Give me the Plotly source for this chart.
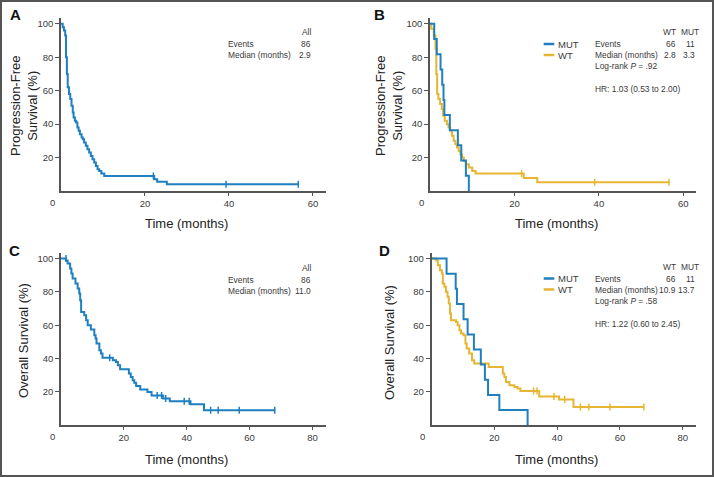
import plotly.graph_objects as go

# Kaplan-Meier step points (time in months, survival in %)
pfs_all_t = [0, 0.4, 0.7, 1.0, 1.2, 1.4, 1.6, 1.9, 2.2, 2.5, 2.8, 3.0, 3.3, 3.6, 3.9, 4.2, 4.5, 4.9,
             5.2, 5.5, 5.9, 6.3, 6.7, 7.1, 7.5, 7.9, 8.3, 8.7, 9.1, 9.6, 10.3, 22.2, 22.9, 25.2, 56.5]
pfs_all_s = [100, 98, 96, 93, 80, 70, 62, 58, 55, 51, 47, 44, 42, 41, 38, 36, 34, 32,
             31, 29, 27, 25, 23, 21, 19, 17, 15, 13, 12, 10.5, 9, 7, 5.5, 4, 4]
pfs_all_cens_t = [22.0, 39.3, 56.5]
pfs_all_cens_s = [9, 4, 4]

pfs_mut_t = [0, 1.0, 1.6, 2.5, 2.9, 3.2, 3.4, 4.7, 6.6, 7.4, 8.5, 9.2]
pfs_mut_s = [100, 90.9, 81.8, 72.7, 63.6, 54.5, 45.5, 36.4, 27.3, 18.2, 9.1, 0]

pfs_wt_t = [0, 0.3, 0.9, 1.3, 1.5, 1.7, 2.0, 2.4, 2.8, 3.1, 3.5, 4.0, 4.4, 4.8, 5.2, 5.6, 6.0, 6.4,
            6.8, 7.2, 7.6, 8.0, 8.5, 9.2, 10.0, 10.8, 22.2, 25.4, 56.6]
pfs_wt_s = [100, 97, 93, 85, 70, 58, 55, 52, 49, 45, 42, 40, 38, 36, 33, 30, 28, 26,
            24, 22, 20, 18, 16, 14, 12, 10.4, 7.8, 5.2, 5.2]
pfs_wt_cens_t = [21.7, 39.0, 56.6]
pfs_wt_cens_s = [10.4, 5.2, 5.2]

os_all_t = [0, 1.6, 2.1, 2.9, 3.3, 3.7, 4.6, 5.3, 5.8, 6.1, 6.4, 7.4, 8.0, 8.5, 9.5, 10.6, 11.0, 11.3,
            12.2, 12.7, 13.2, 16.5, 17.5, 18.1, 18.8, 21.6, 22.2, 22.8, 23.3, 23.9, 25.2, 27.5,
            28.8, 32.5, 34.6, 41.2, 45.5, 68.0]
os_all_s = [100, 98.8, 97, 94, 91, 88, 85, 82, 79, 75, 68, 66, 63, 60, 57.5, 54, 52, 49,
            45, 43, 40.5, 39, 38, 36, 33.6, 31, 29, 27, 25.5, 23.5, 21.5, 20,
            17.8, 16, 14.4, 12.6, 9, 9]
os_all_cens_t = [1.6, 15.5, 30.6, 32.0, 33.3, 39.2, 40.8, 47.6, 50.0, 56.7, 68.0]
os_all_cens_s = [100, 40.5, 17.8, 17.8, 16, 14.4, 14.4, 9, 9, 9, 9]

os_mut_t = [0, 4.8, 7.7, 8.1, 10.2, 11.5, 13.5, 15.7, 17.0, 18.0, 21.6, 30.6]
os_mut_s = [100, 90.9, 81.8, 72.7, 63.6, 54.5, 45.5, 36.4, 27.3, 18.2, 9.1, 0]

os_wt_t = [0, 1.4, 2.0, 2.7, 3.3, 3.6, 4.1, 4.6, 5.1, 5.5, 5.9, 6.2, 7.8, 8.3, 8.9, 9.4, 10.2, 10.8,
           11.2, 12.0, 12.9, 13.6, 18.2, 22.7, 23.2, 23.7, 24.8, 26.4, 27.4, 28.3, 34.3, 40.6,
           45.2, 67.6]
os_wt_s = [100, 99, 96, 93, 91, 85, 83, 80, 77, 73, 67, 63, 62, 60, 57, 55, 54, 49,
           46, 43, 39, 37, 35, 31, 29, 26, 24, 23, 22, 20.5, 17.3, 15.4,
           11, 11]
os_wt_cens_t = [32.5, 33.6, 39.0, 42.4, 47.4, 50.1, 56.8, 67.6]
os_wt_cens_s = [20.5, 20.5, 17.3, 15.4, 11, 11, 11, 11]

y_ticks = [20, 40, 60, 80, 100]
x_ticks_pfs = [20, 40, 60]
x_ticks_os = [20, 40, 60, 80]

BLUE = "#1f7fc0"
GOLD = "#e6b531"
AXIS = "#555555"
TXT = "#3a3a3a"
FONT = "Liberation Sans, Arial, sans-serif"

W, H = 714, 477


def px(x):
    return x / W


def py(y):
    return 1 - y / H


fig = go.Figure()


def km(t, s, color, ax):
    fig.add_trace(go.Scatter(x=t, y=s, mode="lines", line=dict(color=color, width=2, shape="hv"),
                             xaxis="x" + ax, yaxis="y" + ax, showlegend=False, hoverinfo="skip"))


def cens(t, s, color, ax):
    fig.add_trace(go.Scatter(x=t, y=s, mode="markers",
                             marker=dict(symbol="line-ns", size=5, line=dict(color=color, width=1.5)),
                             xaxis="x" + ax, yaxis="y" + ax, showlegend=False, hoverinfo="skip"))


# A
km(pfs_all_t, pfs_all_s, BLUE, "")
cens(pfs_all_cens_t, pfs_all_cens_s, BLUE, "")
# B
km(pfs_wt_t, pfs_wt_s, GOLD, "2")
cens(pfs_wt_cens_t, pfs_wt_cens_s, GOLD, "2")
km(pfs_mut_t, pfs_mut_s, BLUE, "2")
# C
km(os_all_t, os_all_s, BLUE, "3")
cens(os_all_cens_t, os_all_cens_s, BLUE, "3")
# D
km(os_wt_t, os_wt_s, GOLD, "4")
cens(os_wt_cens_t, os_wt_cens_s, GOLD, "4")
km(os_mut_t, os_mut_s, BLUE, "4")


def xax(dom, rng, ticks, anchor):
    return dict(domain=dom, range=rng, tickvals=ticks, showline=True, linecolor=AXIS, linewidth=1.5,
                ticks="outside", ticklen=3, tickcolor=AXIS, showgrid=False, zeroline=False,
                tickfont=dict(size=9.5, color=TXT, family=FONT), anchor=anchor, fixedrange=True)


def yax(dom, rng, anchor):
    return dict(domain=dom, range=rng, tickvals=y_ticks, showline=True, linecolor=AXIS, linewidth=1.5,
                ticks="outside", ticklen=4, tickcolor=AXIS, showgrid=False, zeroline=False,
                tickfont=dict(size=9.5, color=TXT, family=FONT), anchor=anchor, fixedrange=True)


top = [py(191), py(18)]
bot = [py(425.3), py(253)]
left = [px(61), px(326)]
right_b = [px(430), px(696)]
right_d = [px(431.5), px(696)]

fig.update_layout(
    width=W, height=H, margin=dict(l=0, r=0, t=0, b=0),
    paper_bgcolor="white", plot_bgcolor="white",
    xaxis=xax(left, [0, 63.1], x_ticks_pfs, "y"),
    yaxis=yax(top, [0, 103.5], "x"),
    xaxis2=xax(right_b, [0, 63.0], x_ticks_pfs, "y2"),
    yaxis2=yax(top, [0, 103.5], "x2"),
    xaxis3=xax(left, [0, 84.3], x_ticks_os, "y3"),
    yaxis3=yax(bot, [0, 103.3], "x3"),
    xaxis4=xax(right_d, [0, 84.2], x_ticks_os, "y4"),
    yaxis4=yax(bot, [0, 103.3], "x4"),
)

ann = []


def text(x, y, s, size=8.4, anchor="left", color=TXT, family=FONT, angle=0):
    ann.append(dict(x=px(x), y=py(y), xref="paper", yref="paper", text=s, showarrow=False,
                    xanchor=anchor, yanchor="middle", textangle=angle,
                    font=dict(size=size, color=color, family=family)))


# panel letters
for lx, ly, letter in [(15, 15, "A"), (379, 15, "B"), (14, 250, "C"), (384, 250, "D")]:
    text(lx, ly, "<b>%s</b>" % letter, size=15, anchor="center", color="#111")

# corner zero labels
for ax in ["", "2", "3", "4"]:
    ann.append(dict(x=0, y=0, xref="x" + ax, yref="y" + ax, text="0", showarrow=False,
                    xshift=-9, yshift=-11, font=dict(size=9.5, color=TXT, family=FONT)))

# axis titles
for cx, cy in [(186, 224), (556, 224), (186, 459), (556, 459)]:
    text(cx, cy, "Time (months)", size=13, anchor="center", color="#222")
text(24, 106, "Progression-Free<br>Survival (%)", size=13, anchor="center", color="#222", angle=-90)
text(389, 106, "Progression-Free<br>Survival (%)", size=13, anchor="center", color="#222", angle=-90)
text(23, 341, "Overall Survival (%)", size=13, anchor="center", color="#222", angle=-90)
text(389, 342, "Overall Survival (%)", size=13, anchor="center", color="#222", angle=-90)

# panel A / C stats
for dy, med in [(0, "2.9"), (235.5, "11.0")]:
    text(313, 32.3 + dy, "All", anchor="right")
    text(226, 44 + dy, "Events")
    text(313, 44 + dy, "86", anchor="right")
    text(226, 55 + dy, "Median (months)")
    text(313, 55 + dy, med, anchor="right")

# panel B / D stats
shapes = []
for dy, mw, mm, p, hr in [(0, "2.8", "3.3", ".92", "HR: 1.03 (0.53 to 2.00)"),
                          (234.5, "10.9", "13.7", ".58", "HR: 1.22 (0.60 to 2.45)")]:
    text(678, 32.3 + dy, "WT", anchor="right")
    text(701, 32.3 + dy, "MUT", anchor="right")
    text(592.7, 44 + dy, "Events")
    text(678, 44 + dy, "66", anchor="right")
    text(697, 44 + dy, "11", anchor="right")
    text(592.7, 55 + dy, "Median (months)")
    text(678, 55 + dy, mw, anchor="right")
    text(697, 55 + dy, mm, anchor="right")
    text(592.7, 66.3 + dy, "Log-rank <i>P</i> = " + p)
    text(592.7, 89 + dy, hr)
    text(556, 44 + dy, "MUT", size=9.5)
    text(556, 55 + dy, "WT", size=9.5)
    shapes.append(dict(type="line", xref="paper", yref="paper", x0=px(543.7), x1=px(554.3),
                       y0=py(44 + dy), y1=py(44 + dy), line=dict(color=BLUE, width=2.5)))
    shapes.append(dict(type="line", xref="paper", yref="paper", x0=px(543.7), x1=px(554.3),
                       y0=py(55 + dy), y1=py(55 + dy), line=dict(color=GOLD, width=2.5)))

# outer frame
shapes.append(dict(type="rect", xref="paper", yref="paper", x0=0, y0=0, x1=1, y1=1,
                   line=dict(color="#555555", width=4)))

fig.update_layout(annotations=ann, shapes=shapes)

fig.write_html("out.html", config={"displayModeBar": False},
               post_script="document.body.style.margin='0';")
